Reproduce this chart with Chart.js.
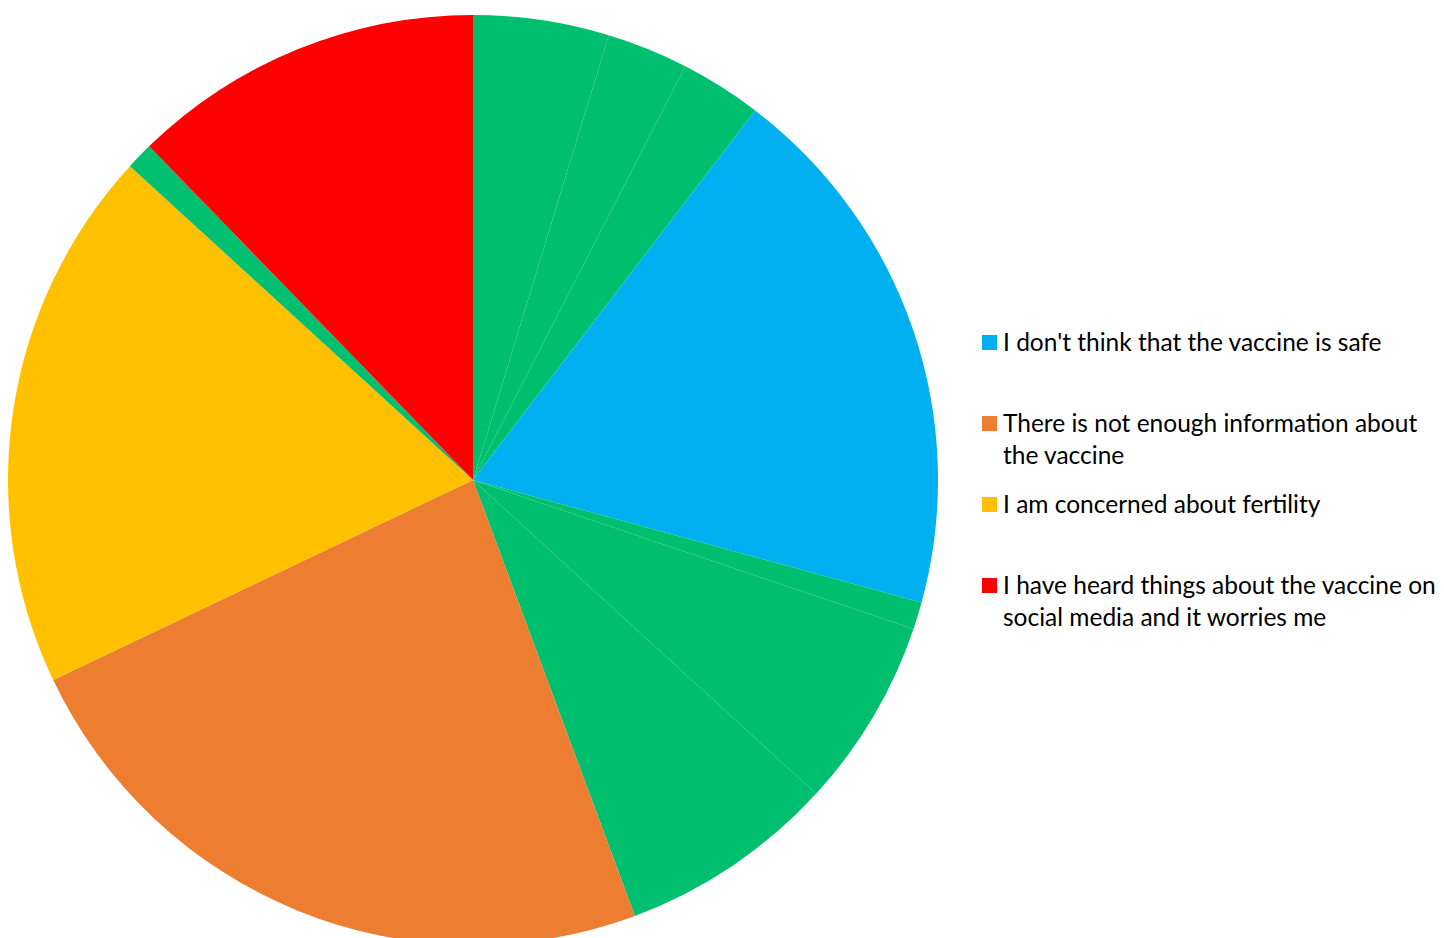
<!DOCTYPE html>
<html>
<head>
<meta charset="utf-8">
<script src="https://cdn.jsdelivr.net/npm/chart.js@4"></script>
<style>
  html, body { margin: 0; padding: 0; background: #fff; width: 1444px; height: 938px; overflow: hidden; }
  #pie-box { position: absolute; left: 8px; top: 15px; width: 930px; height: 930px; }
  #legend { position: absolute; left: 982px; top: 326px; font-family: Lato, "Open Sans", sans-serif; font-size: 24.5px; color: #000; }
  .item { position: absolute; left: 0; white-space: nowrap; }
  .swatch { position: absolute; left: 0; top: 9px; width: 15px; height: 15px; }
  .text { position: absolute; left: 21px; top: 0; line-height: 32px; }
</style>
</head>
<body>
<div id="pie-box"><canvas id="chart-pie"></canvas></div>
<div id="legend"></div>
<script>
// Slices run clockwise from 12 o'clock. Green slices have no legend entry in the source.
const labels = [
  '', '', '',
  ["I don't think that the vaccine is safe"],
  '', '', '',
  ['There is not enough information about', 'the vaccine'],
  ['I am concerned about fertility'],
  '',
  ['I have heard things about the vaccine on', 'social media and it worries me'],
];
const counts = [5, 3, 3, 20, 1, 7, 8, 25, 20, 1, 13];

const GREEN = '#00BF6F';
const colors = [GREEN, GREEN, GREEN, '#00B0F0', GREEN, GREEN, GREEN, '#ED7D31', '#FFC000', GREEN, '#FF0000'];

new Chart(document.getElementById('chart-pie'), {
  type: 'pie',
  data: {
    labels: labels.map((l) => (Array.isArray(l) ? l.join(' ') : l)),
    datasets: [{ data: counts, backgroundColor: colors, borderWidth: 0, hoverOffset: 0 }],
  },
  options: {
    responsive: true,
    maintainAspectRatio: false,
    animation: false,
    layout: { padding: 0 },
    plugins: { legend: { display: false }, tooltip: { enabled: false } },
  },
});

// HTML legend: only the labelled slices, one fixed-height slot each (Excel style).
const legend = document.getElementById('legend');
let slot = 0;
labels.forEach((l, i) => {
  if (!Array.isArray(l)) return;
  const item = document.createElement('div');
  item.className = 'item';
  item.style.top = (slot * 81) + 'px';
  const sw = document.createElement('div');
  sw.className = 'swatch';
  sw.style.background = colors[i];
  const tx = document.createElement('div');
  tx.className = 'text';
  tx.innerHTML = l.map((s) => s.replace(/&/g, '&amp;').replace(/</g, '&lt;')).join('<br>');
  item.appendChild(sw);
  item.appendChild(tx);
  legend.appendChild(item);
  slot++;
});
</script>
</body>
</html>
